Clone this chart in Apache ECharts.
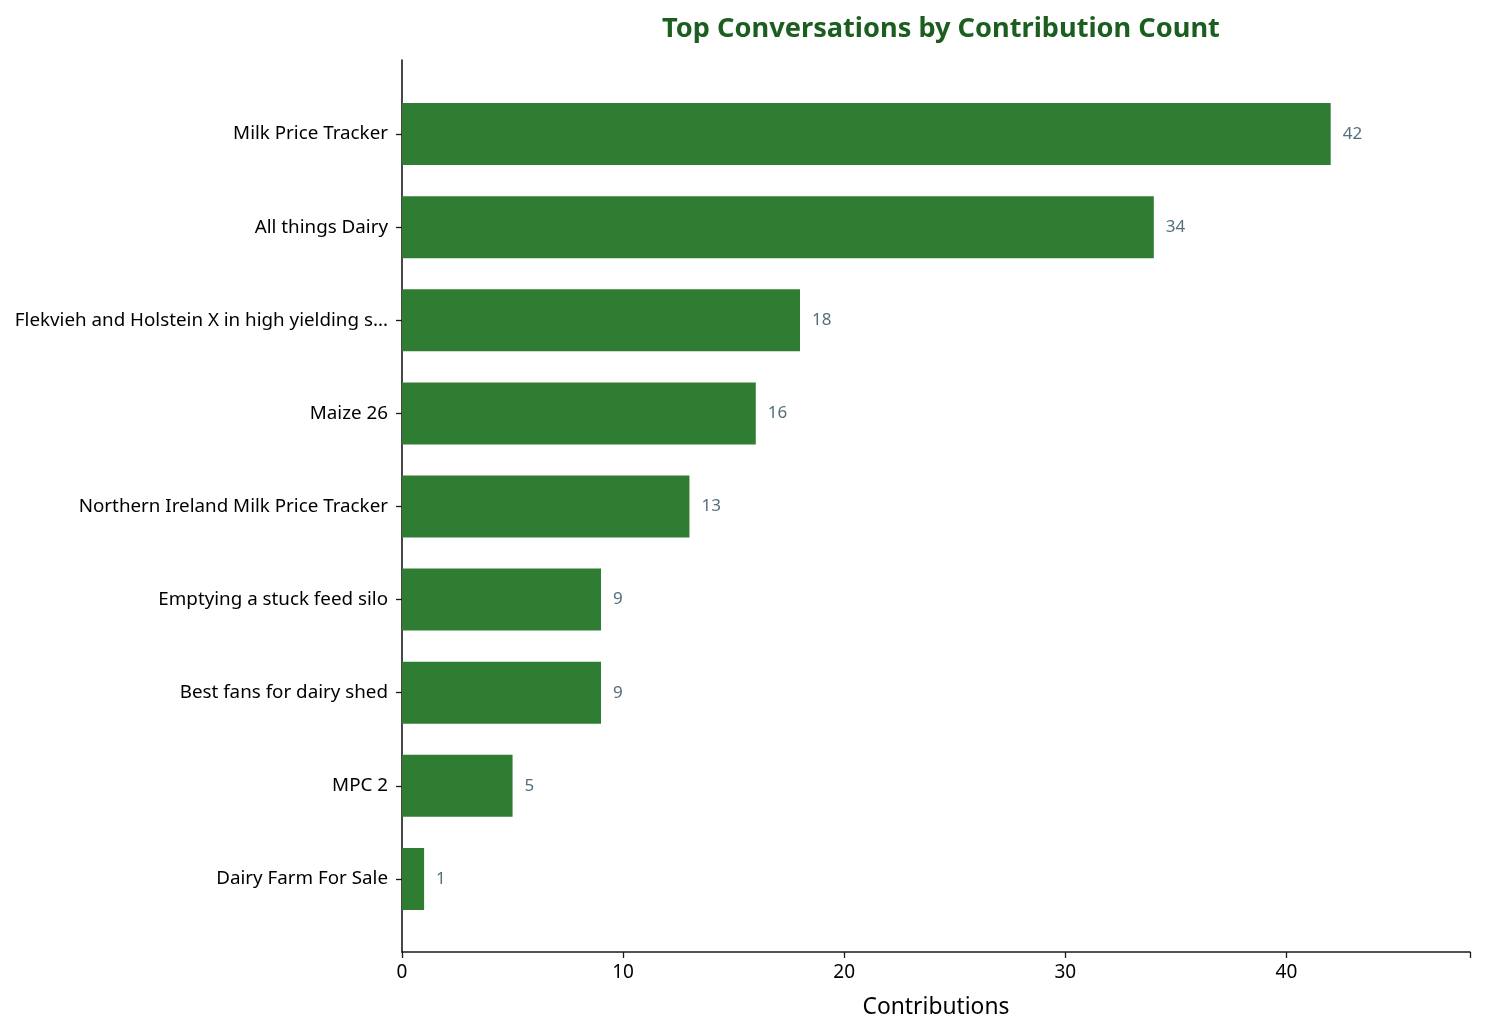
<!DOCTYPE html>
<html>
<head>
<meta charset="utf-8">
<script src="https://cdn.jsdelivr.net/npm/echarts@6/dist/echarts.min.js"></script>
<style>html,body{margin:0;padding:0;background:#fff}#c{width:1485px;height:1035px}</style>
</head>
<body>
<div id="c"></div>
<script>
const categories = [
  "Milk Price Tracker",
  "All things Dairy",
  "Flekvieh and Holstein X in high yielding s...",
  "Maize 26",
  "Northern Ireland Milk Price Tracker",
  "Emptying a stuck feed silo",
  "Best fans for dairy shed",
  "MPC 2",
  "Dairy Farm For Sale"
];
const contributions = [42, 34, 18, 16, 13, 9, 9, 5, 1];
const xTicks = [0, 10, 20, 30, 40];

const FONT = "Noto Sans";
const xMax = 48.3;
const axisColor = "#1a1a1a";

const chart = echarts.init(document.getElementById('c'));
chart.setOption({
  backgroundColor: '#fff',
  textStyle: { fontFamily: FONT },
  title: {
    text: 'Top Conversations by Contribution Count',
    left: 936, textAlign: 'center', top: 11,
    textStyle: { fontFamily: FONT, fontSize: 27.2, fontWeight: 'bold', color: '#1b5e20' }
  },
  grid: [
    { left: 402, right: 15, top: 60, height: 892, containLabel: false },
    { left: 402, right: 15, top: 87.5, height: 838, containLabel: false }
  ],
  xAxis: [
    {
      gridIndex: 0, type: 'value', min: 0, max: xMax, interval: 10,
      axisLine: { show: true, lineStyle: { color: axisColor, width: 1.6 } },
      axisTick: { show: true, length: 6, lineStyle: { color: axisColor, width: 1.3 } },
      axisLabel: { fontFamily: FONT, fontSize: 19, color: '#000', margin: 11, customValues: xTicks },
      splitLine: { show: false },
      name: 'Contributions', nameLocation: 'middle', nameGap: 44,
      nameTextStyle: { fontFamily: FONT, fontSize: 22.8, color: '#000' }
    },
    {
      gridIndex: 1, type: 'value', min: 0, max: xMax, show: false
    }
  ],
  yAxis: [
    {
      gridIndex: 0, type: 'value', min: 0, max: 1,
      axisLine: { show: true, lineStyle: { color: axisColor, width: 1.6 } },
      axisTick: { show: false }, axisLabel: { show: false }, splitLine: { show: false }
    },
    {
      gridIndex: 1, type: 'category', data: categories, inverse: true,
      axisLine: { show: false },
      axisTick: { show: true, alignWithLabel: true, length: 6, lineStyle: { color: axisColor, width: 1.3 } },
      axisLabel: { fontFamily: FONT, fontSize: 18.8, color: '#000', margin: 14, padding: [3, 0, 0, 0] },
      splitLine: { show: false }
    }
  ],
  series: [{
    type: 'bar', xAxisIndex: 1, yAxisIndex: 1,
    data: contributions,
    barWidth: 62,
    itemStyle: { color: '#2e7d32' },
    label: { show: true, position: 'right', distance: 12, fontFamily: FONT, fontSize: 17, color: '#546e7a' },
    animation: false
  }],
  animation: false
});
</script>
</body>
</html>
